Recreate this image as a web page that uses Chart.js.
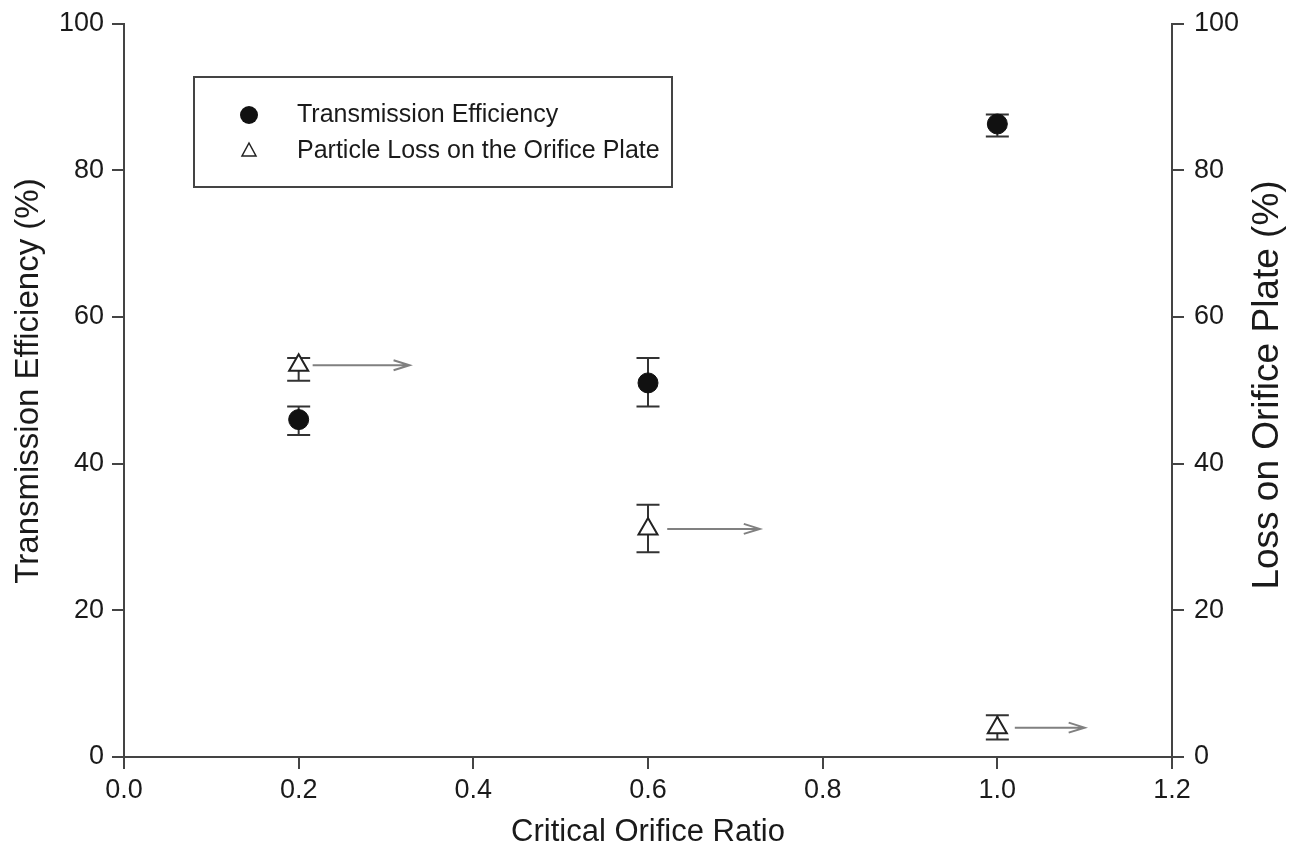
<!DOCTYPE html>
<html>
<head>
<meta charset="utf-8">
<script src="https://cdn.jsdelivr.net/npm/chart.js@4.4.0/dist/chart.umd.min.js"></script>
<style>
  html, body { margin: 0; padding: 0; background: #fff; }
  #wrap { width: 1298px; height: 855px; }
</style>
</head>
<body>
<div id="wrap"><canvas id="chart" width="1298" height="855"></canvas></div>
<script>
// data
const ratios = [0.2, 0.6, 1.0];
const transEff = [46.0, 51.0, 86.3];
const transLow = [43.9, 47.8, 84.6];
const transHigh = [47.8, 54.4, 87.6];
const plateLoss = [53.4, 31.1, 4.0];
const lossLow = [51.3, 27.9, 2.4];
const lossHigh = [54.4, 34.4, 5.7];
// arrows point to the right axis: start/end x in data units
const arrowFrom = [0.216, 0.622, 1.020];
const arrowTo = [0.327, 0.728, 1.100];

const FONT = "'Liberation Sans', Arial, sans-serif";
const AXIS = '#444';
const TXT = '#1a1a1a';

const errorBars = {
    id: 'errorBars',
    beforeDatasetsDraw(chart) {
        const ctx = chart.ctx;
        const x = chart.scales.x;
        ctx.save();
        ctx.strokeStyle = '#333';
        ctx.lineWidth = 2;
        const sets = [
            { ax: chart.scales.y, lo: transLow, hi: transHigh },
            { ax: chart.scales.y2, lo: lossLow, hi: lossHigh }
        ];
        sets.forEach(s => {
            ratios.forEach((r, i) => {
                const px = x.getPixelForValue(r);
                const y1 = s.ax.getPixelForValue(s.lo[i]);
                const y2 = s.ax.getPixelForValue(s.hi[i]);
                ctx.beginPath();
                ctx.moveTo(px, y1); ctx.lineTo(px, y2);
                ctx.moveTo(px - 11.5, y1); ctx.lineTo(px + 11.5, y1);
                ctx.moveTo(px - 11.5, y2); ctx.lineTo(px + 11.5, y2);
                ctx.stroke();
            });
        });
        ctx.restore();
    },
    afterDatasetsDraw(chart) {
        const ctx = chart.ctx;
        const x = chart.scales.x;
        ctx.save();
        ctx.strokeStyle = '#808080';
        ctx.lineWidth = 2;
        ratios.forEach((r, i) => {
            const py = chart.scales.y2.getPixelForValue(plateLoss[i]);
            const xa = x.getPixelForValue(arrowFrom[i]);
            const xb = x.getPixelForValue(arrowTo[i]);
            ctx.beginPath();
            ctx.moveTo(xa, py); ctx.lineTo(xb, py);
            ctx.moveTo(xb - 16, py - 5); ctx.lineTo(xb, py); ctx.lineTo(xb - 16, py + 5);
            ctx.stroke();
        });
        ctx.restore();
    }
};

const extras = {
    id: 'extras',
    afterDraw(chart) {
        const ctx = chart.ctx;
        ctx.save();
        // legend box
        ctx.strokeStyle = '#444';
        ctx.lineWidth = 2;
        ctx.strokeRect(194, 77, 478, 110);
        ctx.fillStyle = '#111';
        ctx.beginPath();
        ctx.arc(249, 115, 9, 0, Math.PI * 2);
        ctx.fill();
        ctx.strokeStyle = '#222';
        ctx.lineWidth = 1.5;
        ctx.beginPath();
        ctx.moveTo(249, 143); ctx.lineTo(256, 156); ctx.lineTo(242, 156); ctx.closePath();
        ctx.stroke();
        ctx.font = '25px ' + FONT;
        ctx.fillStyle = TXT;
        ctx.textBaseline = 'middle';
        ctx.fillText('Transmission Efficiency', 297, 115);
        ctx.fillText('Particle Loss on the Orifice Plate', 297, 151);
        // vertical axis titles, both reading bottom to top
        ctx.textAlign = 'center';
        ctx.save();
        ctx.translate(29, 381);
        ctx.rotate(-Math.PI / 2);
        ctx.font = '33px ' + FONT;
        ctx.fillText('Transmission Efficiency (%)', 0, 0);
        ctx.restore();
        ctx.translate(1268, 385);
        ctx.rotate(-Math.PI / 2);
        ctx.font = '37px ' + FONT;
        ctx.fillText('Loss on Orifice Plate (%)', 0, 0);
        ctx.restore();
    }
};

const tickFont = { family: FONT, size: 27, lineHeight: 1 };

new Chart(document.getElementById('chart'), {
    type: 'scatter',
    data: {
        datasets: [
            {
                label: 'Transmission Efficiency',
                data: ratios.map((r, i) => ({ x: r, y: transEff[i] })),
                yAxisID: 'y',
                pointStyle: 'circle',
                pointRadius: 10,
                backgroundColor: '#111',
                borderColor: '#111',
                borderWidth: 1
            },
            {
                label: 'Particle Loss on the Orifice Plate',
                data: ratios.map((r, i) => ({ x: r, y: plateLoss[i] })),
                yAxisID: 'y2',
                pointStyle: 'triangle',
                pointRadius: 11,
                backgroundColor: '#fff',
                borderColor: '#222',
                borderWidth: 2
            }
        ]
    },
    options: {
        responsive: false,
        animation: false,
        layout: { padding: { top: 22, bottom: 0, left: 0, right: 0 } },
        plugins: { legend: { display: false }, tooltip: { enabled: false } },
        scales: {
            x: {
                type: 'linear',
                min: 0, max: 1.2,
                afterFit: s => { s.height = 98; },
                ticks: { stepSize: 0.2, color: TXT, font: tickFont, padding: 8,
                    callback: v => v.toFixed(1) },
                grid: { display: true, drawOnChartArea: false, drawTicks: true, tickLength: 12, color: AXIS, lineWidth: 2 },
                border: { display: true, color: AXIS, width: 2 },
                title: { display: true, text: 'Critical Orifice Ratio', color: TXT, font: { family: FONT, size: 31 }, padding: { top: 4 } }
            },
            y: {
                position: 'left',
                min: 0, max: 100,
                afterFit: s => { s.width = 124; },
                ticks: { stepSize: 20, color: TXT, font: tickFont, padding: 8 },
                grid: { display: true, drawOnChartArea: false, drawTicks: true, tickLength: 12, color: AXIS, lineWidth: 2 },
                border: { display: true, color: AXIS, width: 2 },
                title: { display: false }
            },
            y2: {
                position: 'right',
                min: 0, max: 100,
                afterFit: s => { s.width = 126; },
                ticks: { stepSize: 20, color: TXT, font: tickFont, padding: 10 },
                grid: { display: true, drawOnChartArea: false, drawTicks: true, tickLength: 12, color: AXIS, lineWidth: 2 },
                border: { display: true, color: AXIS, width: 2 },
                title: { display: false }
            }
        }
    },
    plugins: [errorBars, extras]
});
</script>
</body>
</html>
